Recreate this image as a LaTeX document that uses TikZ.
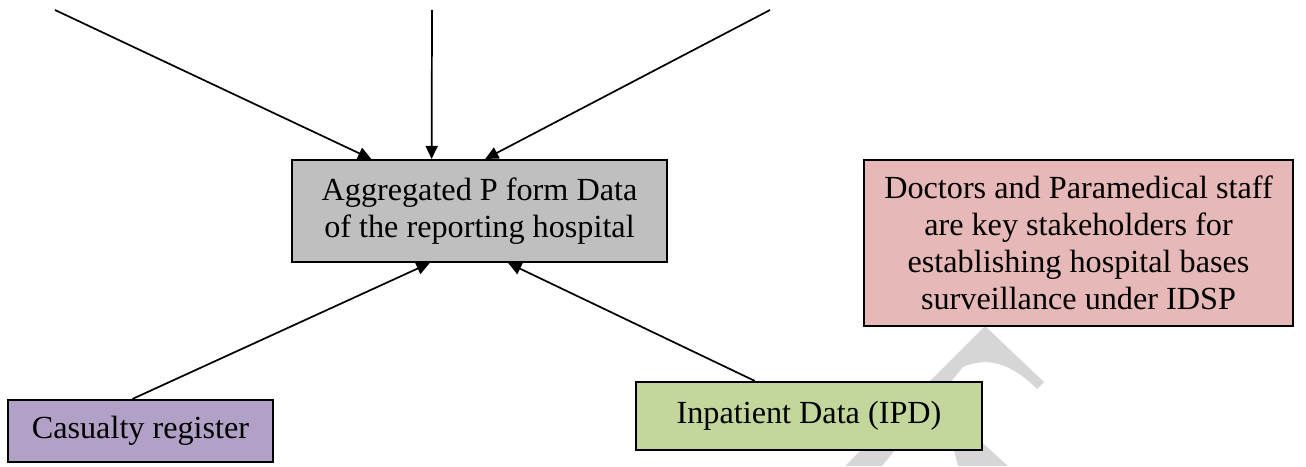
\documentclass[tikz,border=0pt]{standalone}
\usepackage{fontspec}
\setmainfont{Liberation Serif}
\usetikzlibrary{arrows.meta,calc}

\begin{document}
\begin{tikzpicture}[x=0.3788pt,y=-0.3788pt,
    box/.style={draw,line width=0.8pt,align=center,inner sep=0pt,
      font=\fontsize{12.2}{14}\selectfont},
    feed/.style={line width=0.65pt,-{Triangle[length=5pt,width=4.6pt]}}]
      \useasboundingbox (0,0) rectangle (1306,466);

      \fill[black!16] (845,466) -- (985,326) -- (1044,382) -- (1037,389)
        .. controls (1012,364) and (988,356) .. (963,367) -- (882,466) -- cycle;
      \fill[black!16] (958,466) -- (1008,466) -- (975,436) -- (950,436) -- cycle;

      \node[box,fill={rgb,255:red,191;green,191;blue,191},minimum width=142pt,minimum height=38.6pt]
        (agg) at (479.5,211) {Aggregated P form Data\\of the reporting hospital};
      \node[box,fill={rgb,255:red,230;green,184;blue,183},minimum width=162.5pt,minimum height=62.9pt]
        (staff) at (1078.5,243) {Doctors and Paramedical staff\\are key stakeholders for\\establishing hospital bases\\surveillance under IDSP};
      \node[box,fill={rgb,255:red,178;green,161;blue,199},minimum width=100.4pt,minimum height=23.5pt]
        (cas) at (140.5,431) {Casualty register};
      \node[box,fill={rgb,255:red,195;green,214;blue,155},minimum width=131pt,minimum height=25.8pt]
        (ipd) at (809,416) {Inpatient Data (IPD)};

      \coordinate (srcl) at (55,10);
      \coordinate (srcm) at (432,10);
      \coordinate (srcr) at (770,10);

      \draw[feed] (srcl) -- ($(agg.north west)!0.213!(agg.north east)$);
      \draw[feed] (srcm) -- ($(agg.north west)!0.373!(agg.north east)$);
      \draw[feed] (srcr) -- ($(agg.north west)!0.515!(agg.north east)$);
      \draw[feed] ($(cas.north west)!0.47!(cas.north east)$) -- ($(agg.south west)!0.368!(agg.south east)$);
      \draw[feed] ($(ipd.north west)!0.344!(ipd.north east)$) -- ($(agg.south west)!0.576!(agg.south east)$);
\end{tikzpicture}
\end{document}
